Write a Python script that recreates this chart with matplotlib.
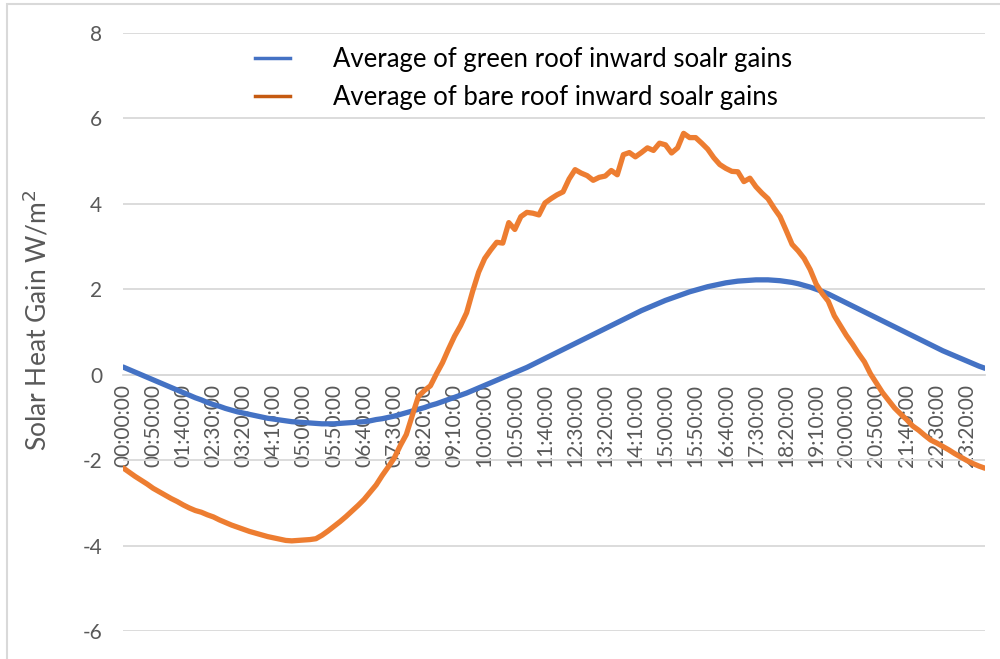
import matplotlib
matplotlib.use("Agg")
import matplotlib.pyplot as plt
from matplotlib.lines import Line2D
from matplotlib.patches import Rectangle

# ----------------- data (10 minute steps, 00:00 - 23:50) -----------------
times = [f"{m // 60:02d}:{m % 60:02d}:00" for m in range(0, 24 * 60, 10)]

green_roof = [
    0.18, 0.12, 0.06, 0.00, -0.06, -0.12, -0.18, -0.24, -0.30, -0.36,
    -0.42, -0.48, -0.54, -0.59, -0.65, -0.70, -0.74, -0.79, -0.83, -0.87,
    -0.90, -0.93, -0.96, -0.99, -1.02, -1.04, -1.06, -1.08, -1.10, -1.11,
    -1.12, -1.13, -1.14, -1.15, -1.15, -1.15, -1.14, -1.13, -1.12, -1.11,
    -1.10, -1.08, -1.05, -1.03, -1.00, -0.97, -0.93, -0.89, -0.85, -0.81,
    -0.77, -0.72, -0.68, -0.63, -0.58, -0.53, -0.48, -0.43, -0.37, -0.31,
    -0.25, -0.19, -0.13, -0.07, -0.01, 0.05, 0.11, 0.17, 0.24, 0.31,
    0.38, 0.45, 0.52, 0.59, 0.66, 0.73, 0.80, 0.87, 0.94, 1.01,
    1.08, 1.15, 1.22, 1.29, 1.36, 1.43, 1.50, 1.56, 1.62, 1.68,
    1.74, 1.79, 1.84, 1.89, 1.94, 1.98, 2.02, 2.06, 2.09, 2.12,
    2.15, 2.17, 2.19, 2.20, 2.21, 2.22, 2.22, 2.22, 2.21, 2.20,
    2.18, 2.16, 2.13, 2.09, 2.05, 2.00, 1.95, 1.89, 1.82, 1.75,
    1.68, 1.61, 1.54, 1.47, 1.40, 1.33, 1.26, 1.19, 1.12, 1.05,
    0.98, 0.91, 0.84, 0.77, 0.70, 0.63, 0.56, 0.50, 0.44, 0.38,
    0.32, 0.26, 0.20, 0.15,
]

bare_roof = [
    -2.18, -2.28, -2.38, -2.47, -2.56, -2.66, -2.74, -2.82, -2.90, -2.97,
    -3.05, -3.12, -3.18, -3.22, -3.28, -3.33, -3.40, -3.46, -3.52, -3.57,
    -3.62, -3.67, -3.71, -3.75, -3.79, -3.82, -3.85, -3.88, -3.89, -3.88,
    -3.87, -3.86, -3.84, -3.76, -3.66, -3.55, -3.44, -3.32, -3.19, -3.06,
    -2.92, -2.75, -2.58, -2.36, -2.16, -1.95, -1.66, -1.40, -0.95, -0.51,
    -0.37, -0.26, 0.02, 0.28, 0.60, 0.90, 1.15, 1.45, 1.95, 2.40,
    2.72, 2.92, 3.10, 3.08, 3.56, 3.40, 3.70, 3.80, 3.78, 3.74,
    4.02, 4.12, 4.21, 4.28, 4.58, 4.80, 4.72, 4.66, 4.55, 4.62,
    4.65, 4.78, 4.68, 5.15, 5.20, 5.10, 5.20, 5.31, 5.25, 5.42,
    5.38, 5.19, 5.31, 5.65, 5.55, 5.55, 5.42, 5.28, 5.08, 4.92,
    4.83, 4.76, 4.75, 4.52, 4.60, 4.40, 4.25, 4.12, 3.90, 3.70,
    3.38, 3.05, 2.90, 2.72, 2.46, 2.12, 1.90, 1.72, 1.38, 1.15,
    0.92, 0.72, 0.50, 0.30, 0.02, -0.20, -0.42, -0.60, -0.78, -0.92,
    -1.05, -1.20, -1.30, -1.42, -1.53, -1.60, -1.68, -1.76, -1.85, -1.93,
    -2.01, -2.08, -2.14, -2.19,
]

labels = ["Average of green roof inward soalr gains",
          "Average of bare roof inward soalr gains"]
y_ticks = [-6, -4, -2, 0, 2, 4, 6, 8]

# ----------------- figure -----------------
plt.rcParams['font.family'] = ['Lato', 'DejaVu Sans']
fig = plt.figure(figsize=(10, 6.59), dpi=100)
ax = fig.add_axes([0.123, 0.0425, 0.862, 0.9075])

x = list(range(len(times)))
ax.plot(x, green_roof, color='#4472C4', lw=3.8, solid_capstyle='round', zorder=3)
ax.plot(x, bare_roof, color='#ED7D31', lw=3.8, solid_capstyle='round', zorder=3)

# x axis sits on zero (do this before the tick labels, it resets them)
for s in ['top', 'right', 'left']:
    ax.spines[s].set_visible(False)
ax.spines['bottom'].set_position(('data', 0))
ax.spines['bottom'].set_color('#D9D9D9')
ax.spines['bottom'].set_linewidth(1.3)

ax.set_xlim(0, len(times) - 1)
ax.set_ylim(-6, 8)
ax.set_yticks(y_ticks)
ax.set_yticklabels([str(v) for v in y_ticks])
ax.grid(axis='y', color='#D9D9D9', lw=1.3)
ax.set_axisbelow(True)

ax.set_xticks(x[::5])
ax.set_xticklabels(times[::5])

ax.tick_params(axis='both', length=0, labelsize=15, colors='#595959')
ax.tick_params(axis='y', pad=15)
ax.tick_params(axis='x', pad=7, labelrotation=90)

ax.set_ylabel('Solar Heat Gain W/m$^{2}$', fontsize=19, color='#595959')
ax.yaxis.set_label_coords(-0.083, 0.52)

# legend
handles = [Line2D([], [], color='#4472C4', lw=2.5),
           Line2D([], [], color='#C55A11', lw=2.5)]
fig.legend(handles, labels, loc='upper left', bbox_to_anchor=(0.255, 0.929),
           frameon=False, fontsize=18.5, handlelength=1.36, handletextpad=1.67,
           labelspacing=0.5, borderpad=0, borderaxespad=0, labelcolor='#000000')

# light border around the chart area
fig.patches.append(Rectangle((0.007, -0.01), 1.1, 1.004, transform=fig.transFigure,
                             fill=False, edgecolor='#D9D9D9', lw=1.5))

fig.savefig('out.png', dpi=100)
